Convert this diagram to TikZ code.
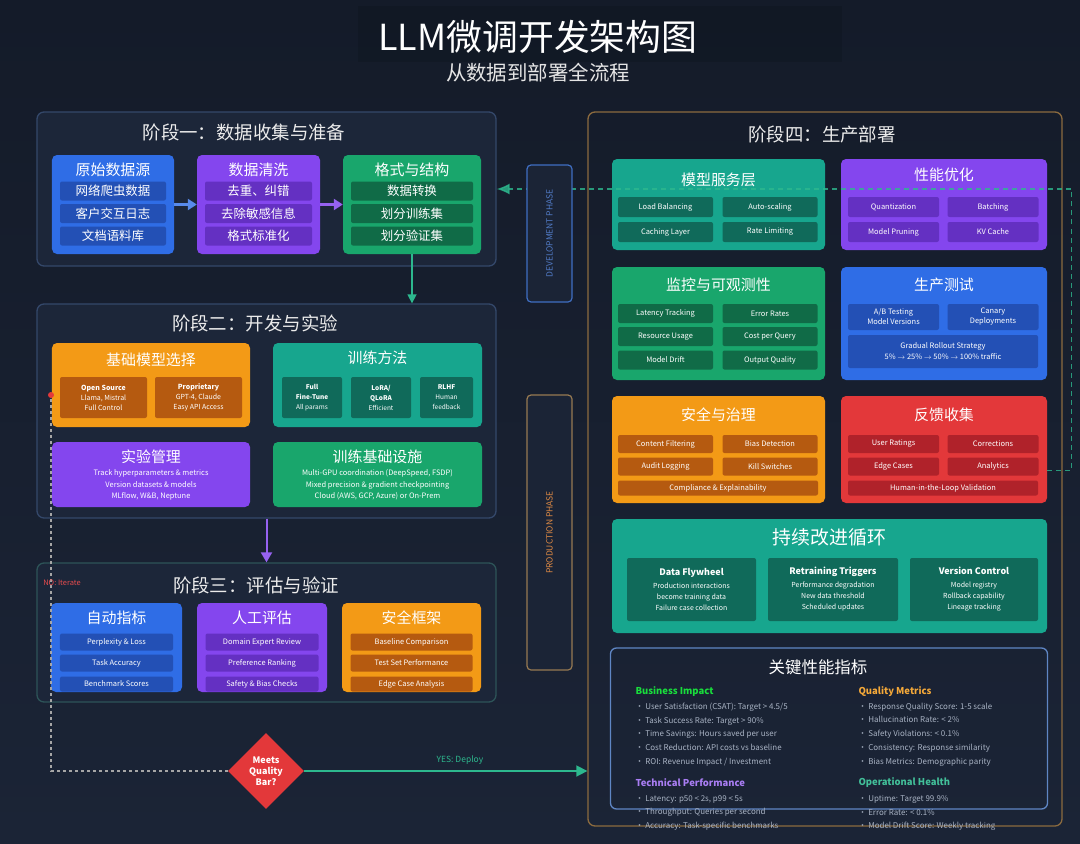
\documentclass[tikz,border=0pt]{standalone}
\usepackage{fontspec}
\setmainfont{Noto Sans CJK SC}
\usepackage{tikz}
\usetikzlibrary{shapes.geometric,arrows.meta}

\definecolor{bgtop}{HTML}{141B29}
\definecolor{bgnavy}{HTML}{1B2436}
\definecolor{stagefill}{HTML}{1C2639}
\definecolor{stageline}{HTML}{34486A}
\definecolor{evalline}{HTML}{2D5458}
\definecolor{prodline}{HTML}{8C6B3F}
\definecolor{kpiline}{HTML}{5F86C4}
\definecolor{cblue}{HTML}{2F6DE6}
\definecolor{cbluedk}{HTML}{2350B5}
\definecolor{cpurple}{HTML}{8446EE}
\definecolor{cpurpledk}{HTML}{6430C2}
\definecolor{cgreen}{HTML}{19A66C}
\definecolor{cgreendk}{HTML}{106B47}
\definecolor{corange}{HTML}{F39A16}
\definecolor{corangedk}{HTML}{B55A10}
\definecolor{cteal}{HTML}{17A68E}
\definecolor{ctealdk}{HTML}{106A5A}
\definecolor{cred}{HTML}{E3383A}
\definecolor{creddk}{HTML}{B0222A}
\definecolor{flowgreen}{HTML}{2DB88E}
\definecolor{devblue}{HTML}{3F6EC2}
\definecolor{prodorange}{HTML}{E08B45}
\definecolor{kpigray}{HTML}{A9B3C4}

\tikzstyle{stagebox} = [rectangle, rounded corners=7bp, draw=stageline, fill=stagefill,
                        line width=1.3bp, inner sep=0pt]
\tikzstyle{card} = [rectangle, rounded corners=5bp, inner sep=0pt]
\tikzstyle{cell} = [rectangle, rounded corners=2bp, inner sep=0pt, text=white, align=center]
\tikzstyle{phasebox} = [rectangle, rounded corners=4bp, fill=bgnavy, line width=1.2bp,
                        rotate=90, minimum height=45bp, inner sep=0pt]

\begin{document}
\begin{tikzpicture}[x=1bp, y=-1bp,
  boxsize/.style 2 args={minimum width=#1bp, minimum height=#2bp},
  maintitle/.style={text=white, font=\fontsize{36}{40}\selectfont},
  subtitle/.style={text=white!90!black, font=\fontsize{20.5}{24}\selectfont},
  stagetitle/.style={text=white!92!black, font=\fontsize{18.5}{22}\selectfont},
  cardtitle/.style={text=white, font=\fontsize{15}{18}\selectfont},
  cjkcell/.style={font=\fontsize{12.5}{14}\selectfont},
  tinycell/.style={font=\fontsize{7.5}{9}\selectfont},
  notecell/.style={text=white, align=center, font=\fontsize{7.5}{11.5}\selectfont},
  loopcell/.style={text=white, align=center, font=\fontsize{7}{11}\selectfont},
  kpihead/.style={anchor=west, font=\bfseries\fontsize{9.5}{11}\selectfont},
  kpilist/.style={anchor=west, align=left, text=kpigray, font=\fontsize{8}{13.8}\selectfont},
  flow/.style={line width=3bp, -{Triangle[length=9bp,width=11bp]}},
  feedback/.style={flowgreen, dash pattern=on 5bp off 4bp, line width=1.4bp,
                   -{Latex[length=13bp,width=11bp]}},
  nopath/.style={gray!70!white, dash pattern=on 3bp off 3bp, line width=1.2bp}]

\shade[top color=bgtop, bottom color=bgnavy] (0,0) rectangle (1080,844);
\useasboundingbox (0,0) rectangle (1080,844);
\fill[black, opacity=0.1] (358,6) rectangle (842,62);

% Title
\node[maintitle] (title) at (538,37) {LLM微调开发架构图};
\node[subtitle] (subtitle) at (538,73) {从数据到部署全流程};

%Stage 1
\node[stagebox, boxsize={459}{154}] (st1) at (266.5,189) {};
\node[stagetitle] (st1t) at (244,132) {阶段一：数据收集与准备};
\node[card, fill=cblue, boxsize={122}{99}] (raw) at (113,204.5) {};
\node[cardtitle] (rawt) at (113,170) {原始数据源};
\node[cell, cjkcell, fill=cbluedk, boxsize={106}{19}] (raw1) at (113,191) {网络爬虫数据};
\node[cell, cjkcell, fill=cbluedk, boxsize={106}{19}] (raw2) at (113,213.5) {客户交互日志};
\node[cell, cjkcell, fill=cbluedk, boxsize={106}{19}] (raw3) at (113,236) {文档语料库};
\node[card, fill=cpurple, boxsize={123}{99}] (clean) at (258.5,204.5) {};
\node[cardtitle] (cleant) at (258.5,170) {数据清洗};
\node[cell, cjkcell, fill=cpurpledk, boxsize={107}{19}] (clean1) at (258.5,191) {去重、纠错};
\node[cell, cjkcell, fill=cpurpledk, boxsize={107}{19}] (clean2) at (258.5,213.5) {去除敏感信息};
\node[cell, cjkcell, fill=cpurpledk, boxsize={107}{19}] (clean3) at (258.5,236) {格式标准化};
\node[card, fill=cgreen, boxsize={138}{99}] (fmt) at (412,204.5) {};
\node[cardtitle] (fmtt) at (412,170) {格式与结构};
\node[cell, cjkcell, fill=cgreendk, boxsize={122}{19}] (fmt1) at (412,191) {数据转换};
\node[cell, cjkcell, fill=cgreendk, boxsize={122}{19}] (fmt2) at (412,213.5) {划分训练集};
\node[cell, cjkcell, fill=cgreendk, boxsize={122}{19}] (fmt3) at (412,236) {划分验证集};
\draw[flow, cblue!80!white] (raw) -- (clean);
\draw[flow, cpurple!85!white] (clean) -- (fmt);

%Stage 2
\node[stagebox, boxsize={459}{214}] (st2) at (266.5,411) {};
\node[stagetitle] (st2t) at (255,323) {阶段二：开发与实验};
\node[card, fill=corange, boxsize={198}{84}] (base) at (151,385) {};
\node[cardtitle] (baset) at (151,360) {基础模型选择};
\node[cell, fill=corangedk, boxsize={87}{41}, font=\fontsize{7}{10}\selectfont] (base1) at (103.5,397.5) {\textbf{Open Source}\\Llama, Mistral\\Full Control};
\node[cell, fill=corangedk, boxsize={87}{41}, font=\fontsize{7}{10}\selectfont] (base2) at (198.5,397.5) {\textbf{Proprietary}\\GPT-4, Claude\\Easy API Access};
\node[card, fill=cteal, boxsize={209}{84}] (method) at (377.5,385) {};
\node[cardtitle] (methodt) at (377.5,358) {训练方法};
\node[cell, fill=ctealdk, boxsize={60}{41}, font=\fontsize{6.5}{10}\selectfont] (method1) at (312,397.5) {\textbf{Full}\\\textbf{Fine-Tune}\\All params};
\node[cell, fill=ctealdk, boxsize={60}{41}, font=\fontsize{6.5}{10}\selectfont] (method2) at (381,397.5) {\textbf{LoRA/}\\\textbf{QLoRA}\\Efficient};
\node[cell, fill=ctealdk, boxsize={53}{41}, font=\fontsize{6.5}{10}\selectfont] (method3) at (446.5,397.5) {\textbf{RLHF}\\Human\\feedback};
\node[card, fill=cpurple, boxsize={198}{65}] (exp) at (151,474.5) {};
\node[cardtitle] (expt) at (151,457) {实验管理};
\node[notecell] (expnote) at (151,485) {Track hyperparameters \& metrics\\Version datasets \& models\\MLflow, W\&B, Neptune};
\node[card, fill=cgreen, boxsize={209}{65}] (infra) at (377.5,474.5) {};
\node[cardtitle] (infrat) at (377.5,457) {训练基础设施};
\node[notecell] (infranote) at (377.5,485) {Multi-GPU coordination (DeepSpeed, FSDP)\\Mixed precision \& gradient checkpointing\\Cloud (AWS, GCP, Azure) or On-Prem};
\draw[flowgreen, line width=1.5bp, -{Triangle[length=9bp,width=9bp]}] (fmt.south) -- (fmt.south |- st2.north);

%Stage 3
\node[stagebox, draw=evalline, boxsize={459}{139}] (st3) at (266.5,632.5) {};
\node[stagetitle] (st3t) at (256,585) {阶段三：评估与验证};
\node[card, fill=cblue, boxsize={131}{89}] (auto) at (116.5,647.5) {};
\node[cardtitle] (autot) at (116.5,618) {自动指标};
\node[cell, tinycell, fill=cbluedk, boxsize={113}{17}] (auto1) at (116.5,642) {Perplexity \& Loss};
\node[cell, tinycell, fill=cbluedk, boxsize={113}{17}] (auto2) at (116.5,663) {Task Accuracy};
\node[cell, tinycell, fill=cbluedk, boxsize={113}{15}] (auto3) at (116.5,684) {Benchmark Scores};
\node[card, fill=cpurple, boxsize={130}{89}] (human) at (262,647.5) {};
\node[cardtitle] (humant) at (262,618) {人工评估};
\node[cell, tinycell, fill=cpurpledk, boxsize={113}{17}] (human1) at (262,642) {Domain Expert Review};
\node[cell, tinycell, fill=cpurpledk, boxsize={113}{17}] (human2) at (262,663) {Preference Ranking};
\node[cell, tinycell, fill=cpurpledk, boxsize={113}{15}] (human3) at (262,684) {Safety \& Bias Checks};
\node[card, fill=corange, boxsize={139}{89}] (guard) at (411.5,647.5) {};
\node[cardtitle] (guardt) at (411.5,618) {安全框架};
\node[cell, tinycell, fill=corangedk, boxsize={122}{17}] (guard1) at (411.5,642) {Baseline Comparison};
\node[cell, tinycell, fill=corangedk, boxsize={122}{17}] (guard2) at (411.5,663) {Test Set Performance};
\node[cell, tinycell, fill=corangedk, boxsize={122}{15}] (guard3) at (411.5,684) {Edge Case Analysis};
\draw[cpurple!85!white, line width=2bp, -{Triangle[length=10bp,width=11bp]}] (st2.south) -- (st3.north);

%Stage 4
\node[stagebox, draw=prodline, fill=none, boxsize={474}{714}] (st4) at (825,469) {};
\node[stagetitle] (st4t) at (822,135) {阶段四：生产部署};
\node[card, fill=cteal, boxsize={213}{91}] (serve) at (718.5,204.5) {};
\node[cardtitle] (servet) at (718.5,180) {模型服务层};
\node[cell, tinycell, fill=ctealdk, boxsize={95}{20}] (serve1) at (665.5,207) {Load Balancing};
\node[cell, tinycell, fill=ctealdk, boxsize={95}{20}] (serve2) at (770,207) {Auto-scaling};
\node[cell, tinycell, fill=ctealdk, boxsize={95}{20}] (serve3) at (665.5,232) {Caching Layer};
\node[cell, tinycell, fill=ctealdk, boxsize={95}{20}] (serve4) at (770,232) {Rate Limiting};
\node[card, fill=cpurple, boxsize={206}{91}] (perf) at (944,204.5) {};
\node[cardtitle] (perft) at (944,175) {性能优化};
\node[cell, tinycell, fill=cpurpledk, boxsize={91}{20}] (perf1) at (893.5,207) {Quantization};
\node[cell, tinycell, fill=cpurpledk, boxsize={91}{20}] (perf2) at (993,207) {Batching};
\node[cell, tinycell, fill=cpurpledk, boxsize={91}{20}] (perf3) at (893.5,232) {Model Pruning};
\node[cell, tinycell, fill=cpurpledk, boxsize={91}{20}] (perf4) at (993,232) {KV Cache};
\node[card, fill=cgreen, boxsize={213}{113}] (mon) at (718.5,323.5) {};
\node[cardtitle] (mont) at (718.5,285) {监控与可观测性};
\node[cell, tinycell, fill=cgreendk, boxsize={95}{19}] (mon1) at (665.5,313.5) {Latency Tracking};
\node[cell, tinycell, fill=cgreendk, boxsize={95}{19}] (mon2) at (770,313.5) {Error Rates};
\node[cell, tinycell, fill=cgreendk, boxsize={95}{19}] (mon3) at (665.5,336.5) {Resource Usage};
\node[cell, tinycell, fill=cgreendk, boxsize={95}{19}] (mon4) at (770,336.5) {Cost per Query};
\node[cell, tinycell, fill=cgreendk, boxsize={95}{19}] (mon5) at (665.5,360) {Model Drift};
\node[cell, tinycell, fill=cgreendk, boxsize={95}{19}] (mon6) at (770,360) {Output Quality};
\node[card, fill=cblue, boxsize={206}{113}] (test) at (944,323.5) {};
\node[cardtitle] (testt) at (944,285) {生产测试};
\node[cell, fill=cbluedk, boxsize={91}{26}, font=\fontsize{7.5}{10}\selectfont] (test1) at (893.5,317) {A/B Testing\\Model Versions};
\node[cell, fill=cbluedk, boxsize={91}{26}, font=\fontsize{7.5}{10}\selectfont] (test2) at (993,317) {Canary\\Deployments};
\node[cell, fill=cbluedk, boxsize={190}{33}, font=\fontsize{7.5}{11}\selectfont] (test3) at (943,351.5) {Gradual Rollout Strategy\\5\% $\rightarrow$ 25\% $\rightarrow$ 50\% $\rightarrow$ 100\% traffic};
\node[card, fill=corange, boxsize={213}{107}] (gov) at (718.5,449.5) {};
\node[cardtitle] (govt) at (718.5,415) {安全与治理};
\node[cell, tinycell, fill=corangedk, boxsize={95}{18}] (gov1) at (665.5,444) {Content Filtering};
\node[cell, tinycell, fill=corangedk, boxsize={95}{18}] (gov2) at (770,444) {Bias Detection};
\node[cell, tinycell, fill=corangedk, boxsize={95}{18}] (gov3) at (665.5,466.5) {Audit Logging};
\node[cell, tinycell, fill=corangedk, boxsize={95}{18}] (gov4) at (770,466.5) {Kill Switches};
\node[cell, tinycell, fill=corangedk, boxsize={200}{15}] (gov5) at (718,488) {Compliance \& Explainability};
\node[card, fill=cred, boxsize={206}{107}] (fb) at (944,449.5) {};
\node[cardtitle] (fbt) at (944,415) {反馈收集};
\node[cell, tinycell, fill=creddk, boxsize={91}{18}] (fb1) at (893.5,444) {User Ratings};
\node[cell, tinycell, fill=creddk, boxsize={91}{18}] (fb2) at (993,444) {Corrections};
\node[cell, tinycell, fill=creddk, boxsize={91}{18}] (fb3) at (893.5,466.5) {Edge Cases};
\node[cell, tinycell, fill=creddk, boxsize={91}{18}] (fb4) at (993,466.5) {Analytics};
\node[cell, tinycell, fill=creddk, boxsize={190}{15}] (fb5) at (943,488) {Human-in-the-Loop Validation};

% Improvement loop
\node[card, fill=cteal, boxsize={435}{114}] (loop) at (829.5,576) {};
\node[cardtitle, font=\fontsize{19}{22}\selectfont] (loopt) at (829.5,537) {持续改进循环};
\node[cell, loopcell, fill=ctealdk, boxsize={129}{63}] (loop1) at (691.5,589.5) {{\bfseries\fontsize{9}{11}\selectfont Data Flywheel}\\[2pt]Production interactions\\become training data\\Failure case collection};
\node[cell, loopcell, fill=ctealdk, boxsize={130}{63}] (loop2) at (833,589.5) {{\bfseries\fontsize{9}{11}\selectfont Retraining Triggers}\\[2pt]Performance degradation\\New data threshold\\Scheduled updates};
\node[cell, loopcell, fill=ctealdk, boxsize={128}{63}] (loop3) at (974,589.5) {{\bfseries\fontsize{9}{11}\selectfont Version Control}\\[2pt]Model registry\\Rollback capability\\Lineage tracking};

% KPI
\node[rectangle, rounded corners=6bp, draw=kpiline, line width=1.3bp, boxsize={437}{161}] (kpi) at (829,728.5) {};
\node[cardtitle, font=\fontsize{16.5}{19}\selectfont] (kpit) at (818,667) {关键性能指标};
\node[kpihead, text=green!70!teal!90!white] (bizh) at (632,692) {Business Impact};
\node[kpilist] (bizl) at (632,734.5) {• User Satisfaction (CSAT): Target > 4.5/5\\• Task Success Rate: Target > 90\%\\• Time Savings: Hours saved per user\\• Cost Reduction: API costs vs baseline\\• ROI: Revenue Impact / Investment};
\node[kpihead, text=cpurple!70!white] (techh) at (632,783) {Technical Performance};
\node[kpilist] (techl) at (632,813) {• Latency: p50 < 2s, p99 < 5s\\• Throughput: Queries per second\\• Accuracy: Task-specific benchmarks};
\node[kpihead, text=corange!85!white] (qualh) at (855,692) {Quality Metrics};
\node[kpilist] (quall) at (855,734.5) {• Response Quality Score: 1-5 scale\\• Hallucination Rate: < 2\%\\• Safety Violations: < 0.1\%\\• Consistency: Response similarity\\• Bias Metrics: Demographic parity};
\node[kpihead, text=flowgreen!90!white] (opsh) at (855,783) {Operational Health};
\node[kpilist] (opsl) at (855,813) {• Uptime: Target 99.9\%\\• Error Rate: < 0.1\%\\• Model Drift Score: Weekly tracking};

% Decision and loops
\node[diamond, fill=cred, minimum width=76bp, minimum height=76bp, inner sep=0pt, text=white, align=center,
      font=\bfseries\fontsize{9}{11}\selectfont] (dec) at (266,771) {Meets\\Quality\\Bar?};
\coordinate (iter) at (51,395);
\draw[nopath] (dec.west) -| (iter);
\node[circle, fill=cred, minimum size=6bp, inner sep=0pt] (iterdot) at (iter) {};
\node[text=cred!90!white, font=\fontsize{7.5}{9}\selectfont] (nolbl) at (62,583) {NO: Iterate};
\draw[flowgreen, line width=1.6bp, -{Triangle[length=11bp,width=11bp]}] (dec.east) -- (dec.east -| st4.west)
      node[pos=0.55, above=2bp, font=\fontsize{8.5}{10}\selectfont] (yeslbl) {YES: Deploy};
\draw[feedback, opacity=0.8] ([yshift=-21bp]fb.east) -- ++(24,0) |- (st1.east);

% Phase labels
\node[phasebox, draw=devblue, minimum width=137bp, text=devblue!90!white, font=\fontsize{8.5}{10}\selectfont] (devph) at (549.5,233.5) {DEVELOPMENT PHASE};
\node[phasebox, draw=prodline!90!white, minimum width=275bp, text=prodorange, font=\fontsize{8.5}{10}\selectfont] (prodph) at (549.5,532.5) {PRODUCTION PHASE};
\end{tikzpicture}
\end{document}
